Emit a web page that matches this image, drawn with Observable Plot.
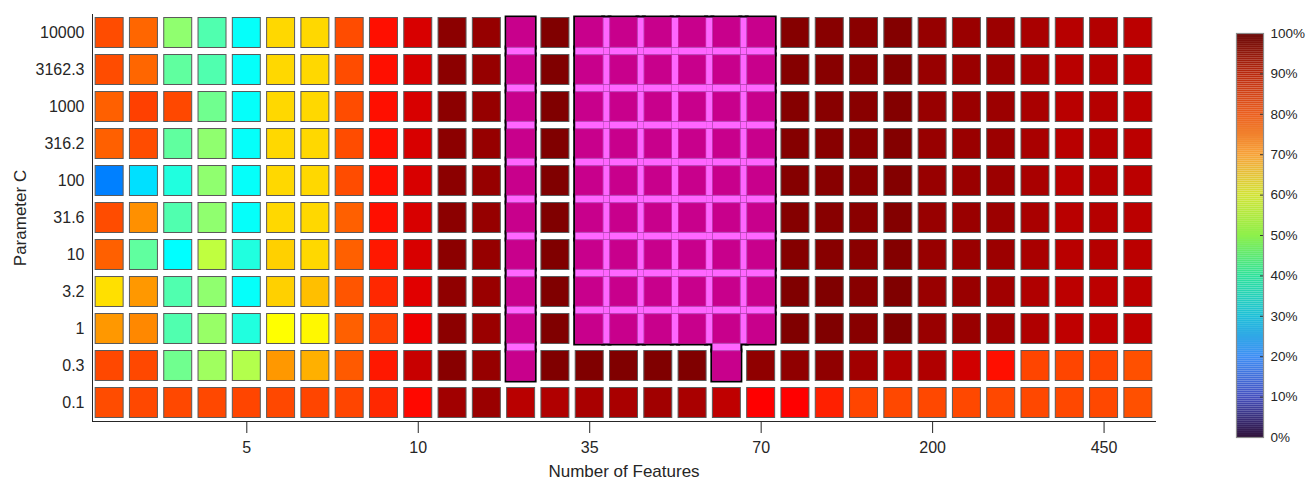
<!DOCTYPE html>
<html><head><meta charset="utf-8">
<script src="https://cdn.jsdelivr.net/npm/d3@7"></script>
<script src="https://cdn.jsdelivr.net/npm/@observablehq/plot@0.6"></script>
<style>
body{margin:0;background:#fff;}
#wrap{position:relative;width:1306px;height:480px;font-family:"Liberation Sans",Arial,sans-serif;}
#main,#bar{position:absolute;top:0;}
#main{left:0;} #bar{left:1200px;}
</style></head><body>
<div id="wrap"><div id="main"></div><div id="bar"></div></div>
<script>
// ---- data ----
const paramC = ["10000","3162.3","1000","316.2","100","31.6","10","3.2","1","0.3","0.1"];
const featureTickCols = [4, 9, 14, 19, 24, 29];
const featureTickLabels = ["5","10","35","70","200","450"];
const nFeatures = 31;
const N = null; // cells without a value (magenta region)
const acc10000 = [80, 77.5, 51.6, 45.3, 38, 66.3, 66.3, 80, 86, 91.3, 98.8, 97.8, N, 100, N, N, N, N, N, N, 99.5, 99.2, 99.0, 99.6, 97.8, 97.4, 97.2, 96.0, 94.6, 95.0, 94.2];
const acc3162 = [80, 77.5, 46.9, 45.3, 38, 66.3, 66.3, 80, 86, 91.3, 98.8, 97.8, N, 100, N, N, N, N, N, N, 99.5, 99.2, 99.0, 99.6, 97.6, 97.4, 97.2, 96.0, 94.4, 94.8, 94.2];
const acc1000 = [78.1, 81.2, 80.4, 48.5, 38, 66.3, 66.3, 80, 86, 91.3, 98.8, 97.8, N, 100, N, N, N, N, N, N, 99.5, 99.2, 99.1, 99.6, 97.6, 97.4, 97.2, 96.0, 94.4, 94.8, 94.2];
const acc316 = [78.1, 80, 46.9, 51.6, 38, 66.3, 66.3, 80, 86, 91.3, 98.8, 97.8, N, 100, N, N, N, N, N, N, 99.5, 99.2, 99.0, 99.6, 97.6, 97.4, 97.2, 96.0, 94.4, 94.8, 94.2];
const acc100 = [25, 34.5, 40.6, 51.6, 38, 66.3, 66.3, 80, 86, 91.3, 98.8, 97.8, N, 100, N, N, N, N, N, N, 99.5, 99.2, 99.0, 99.6, 97.6, 97.4, 97.2, 96.0, 94.4, 94.8, 94.2];
const acc31 = [80, 73.4, 45.3, 51.6, 38, 66.3, 66.3, 78.1, 86, 91.3, 98.8, 97.8, N, 100, N, N, N, N, N, N, 99.5, 99.2, 99.0, 99.6, 97.6, 97.4, 97.2, 96.0, 94.4, 94.8, 94.2];
const acc10 = [78.1, 46.9, 37.5, 56.3, 40.6, 67.1, 66.3, 78.1, 85.1, 91.3, 98.8, 97.8, N, 100, N, N, N, N, N, N, 99.5, 99.2, 99.0, 99.6, 97.6, 97.4, 97.2, 96.0, 94.4, 94.8, 94.2];
const acc3 = [65.5, 72.6, 45.3, 51.6, 38, 67.1, 68.8, 79.2, 83.6, 90.5, 98.4, 97.5, N, 100, N, N, N, N, N, N, 100, 100, 99.2, 100, 97.5, 97.5, 96.8, 95.3, 94.1, 94.1, 94.1];
const acc1 = [72.6, 74.2, 45.3, 52.4, 40.6, 62.5, 63.2, 78.1, 81.2, 89, 98.8, 97.4, N, 100, N, N, N, N, N, N, 100, 100, 99.2, 100, 97.5, 97.5, 96.8, 95.3, 93.8, 93.8, 93.8];
const acc03 = [80.4, 80.4, 48.5, 53.2, 55, 72.6, 70.2, 78.7, 85.1, 92.9, 99.2, 97.8, N, 100, 100, 100, 100, 100, N, 98.4, 98.4, 98.4, 96.8, 95.3, 95.3, 92.1, 86, 80.7, 80.7, 80.7, 79.7];
const acc01 = [80, 80.4, 80.4, 80.4, 80.7, 80.4, 80.7, 80.7, 83.6, 86.7, 96.8, 97.4, 94.4, 95.3, 96, 96, 96.8, 96, 93.8, 87.5, 87.5, 84.4, 80.7, 80.4, 80.4, 80.4, 80.4, 80.4, 80.4, 80.4, 79.7];
const accuracy = [acc10000, acc3162, acc1000, acc316, acc100, acc31, acc10, acc3, acc1, acc03, acc01];
const colorbarTicks = [0, 10, 20, 30, 40, 50, 60, 70, 80, 90, 100];
const colorbarColors = ["#30123b","#4550c0","#3f8ff5","#1fc0d8","#2ee29a","#8ef04a","#d2e336","#f7a33a","#eb5f1f","#b9290e","#6b0a0a"];

// ---- derived tables ----
const nRows = paramC.length;
const IX = 0.092, IY = 0.095, SHRINK = 0.018;
const cells = [];
accuracy.forEach((row, r) => row.forEach((v, c) => cells.push({c, r, v})));
const valued = cells.filter(d => d.v != null);
const empty = cells.filter(d => d.v == null);
const isEmpty = (c, r) => r >= 0 && r < nRows && c >= 0 && c < nFeatures && accuracy[r][c] == null;
const pieces = [];
for (const {c, r} of empty) {
  pieces.push({x1: c - 0.5 + IX, x2: c + 0.5 - IX, y1: r - 0.5 + IY, y2: r + 0.5 - IY});
  if (isEmpty(c + 1, r)) pieces.push({x1: c + 0.5 - IX, x2: c + 0.5 + IX, y1: r - 0.5 + IY, y2: r + 0.5 - IY});
  if (isEmpty(c, r + 1)) pieces.push({x1: c - 0.5 + IX, x2: c + 0.5 - IX, y1: r + 0.5 - IY, y2: r + 0.5 + IY});
  if (isEmpty(c + 1, r) && isEmpty(c, r + 1) && isEmpty(c + 1, r + 1))
    pieces.push({x1: c + 0.5 - IX, x2: c + 0.5 + IX, y1: r + 0.5 - IY, y2: r + 0.5 + IY});
}
const inner = empty.map(({c, r}) => ({
  x1: c - 0.5 + IX + (isEmpty(c - 1, r) ? SHRINK : 0),
  x2: c + 0.5 - IX - (isEmpty(c + 1, r) ? SHRINK : 0),
  y1: r - 0.5 + IY + (isEmpty(c, r - 1) ? SHRINK : 0),
  y2: r + 0.5 - IY - (isEmpty(c, r + 1) ? SHRINK : 0)
}));

const jet = d3.scaleLinear()
  .domain([0, 0.125, 0.375, 0.625, 0.875, 1])
  .range(["#000080", "#0000ff", "#00ffff", "#ffff00", "#ff0000", "#800000"])
  .interpolate(d3.interpolateRgb);

const font = "Liberation Sans, Arial, Helvetica, sans-serif";
const ink = "#262626";

const main = Plot.plot({
  width: 1200, height: 480,
  marginLeft: 92, marginRight: 45, marginTop: 14, marginBottom: 59,
  style: {fontFamily: font, fontSize: "16px", color: ink, background: "transparent", overflow: "visible"},
  x: {domain: [-0.5, nFeatures - 0.5], ticks: featureTickCols,
      tickFormat: d => featureTickLabels[featureTickCols.indexOf(d)],
      tickSize: 12, tickPadding: 8, line: true, label: null},
  y: {domain: [-0.5, nRows - 0.5], reverse: true, ticks: d3.range(nRows),
      tickFormat: i => paramC[i], tickSize: 0, tickPadding: 8, line: true, label: null},
  color: {type: "linear", domain: [0, 100], interpolate: t => jet(t)},
  marks: [
    Plot.rect(valued, {x1: d => d.c - 0.5 + IX, x2: d => d.c + 0.5 - IX,
      y1: d => d.r - 0.5 + IY, y2: d => d.r + 0.5 - IY, fill: "v", stroke: "#5a5a5a", strokeWidth: 1}),
    Plot.rect(pieces, {x1: "x1", x2: "x2", y1: "y1", y2: "y2", fill: "#000", stroke: "#000", strokeWidth: 4}),
    Plot.rect(pieces, {x1: "x1", x2: "x2", y1: "y1", y2: "y2", fill: "#ff66ff"}),
    Plot.rect(inner, {x1: "x1", x2: "x2", y1: "y1", y2: "y2", fill: "#c8008c", stroke: "#b8007f", strokeWidth: 0.5}),
    Plot.text(["Number of Features"], {text: d => d, frameAnchor: "bottom", dy: 50, fontSize: 17, lineAnchor: "middle", fill: ink}),
    Plot.text(["Parameter C"], {text: d => d, frameAnchor: "left", dx: -72, rotate: -90, fontSize: 17, textAnchor: "middle", lineAnchor: "middle", fill: ink})
  ]
});
document.getElementById("main").appendChild(main);

const barTurbo = d3.scaleLinear().domain(colorbarTicks).range(colorbarColors).interpolate(d3.interpolateRgb);
const steps = d3.range(0, 100, 0.5);
const bar = Plot.plot({
  width: 106, height: 480,
  marginLeft: 36, marginRight: 43, marginTop: 33, marginBottom: 43,
  style: {fontFamily: font, fontSize: "13.5px", color: ink, background: "transparent", overflow: "visible"},
  x: {axis: null, domain: [0, 1]},
  y: {domain: [0, 100], axis: "right", ticks: colorbarTicks, tickFormat: d => d + "%", tickSize: 0, tickPadding: 7, label: null},
  color: {type: "linear", domain: [0, 100], interpolate: t => barTurbo(t * 100)},
  marks: [
    Plot.rect(steps, {y1: d => d, y2: d => d + 0.5, fill: d => d + 0.25}),
    Plot.tickY(colorbarTicks.slice(1, -1), {y: d => d, insetLeft: 24, stroke: "#333", strokeWidth: 1}),
    Plot.frame({stroke: "#8c8c8c", strokeWidth: 1.2})
  ]
});
document.getElementById("bar").appendChild(bar);
</script>
</body></html>
